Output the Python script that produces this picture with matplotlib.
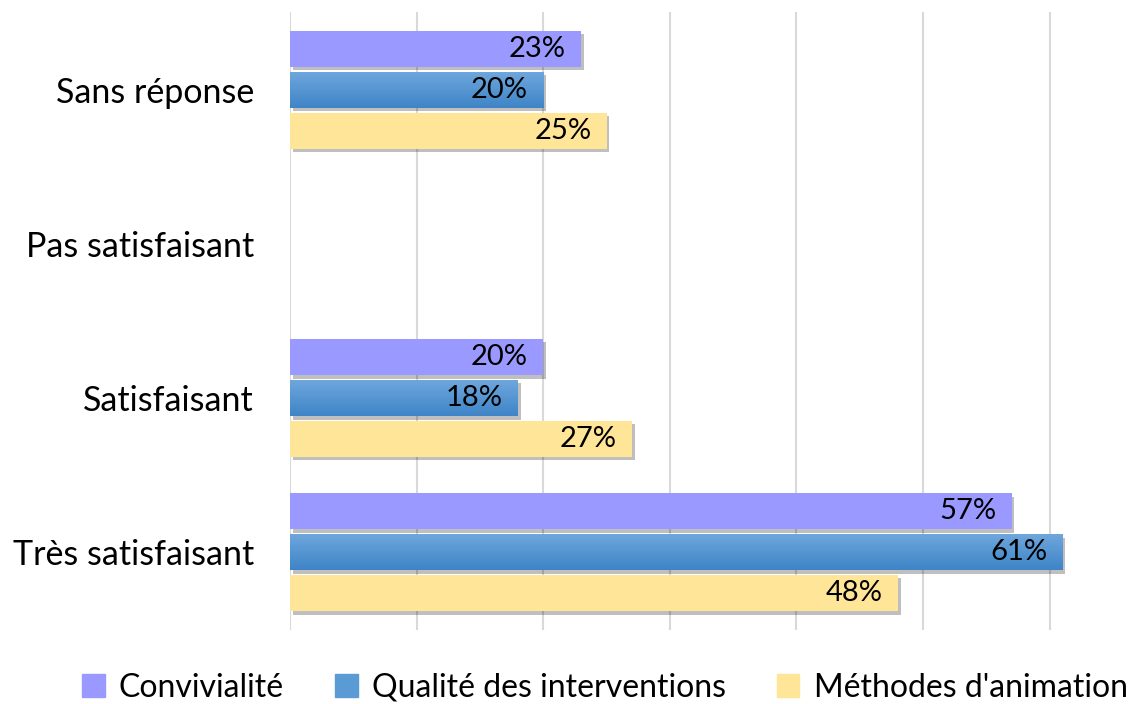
import numpy as np
import matplotlib
matplotlib.use('Agg')
import matplotlib.pyplot as plt
import matplotlib.patheffects as pe
from matplotlib.patches import Patch

plt.rcParams['font.family'] = ['Lato', 'DejaVu Sans']

# Data (bottom to top on the chart)
categories = ['Très satisfaisant', 'Satisfaisant', 'Pas satisfaisant', 'Sans réponse']
series_names = ['Convivialité', 'Qualité des interventions', "Méthodes d'animation"]
convivialite = [57, 20, 0, 23]
qualite = [61, 18, 0, 20]
methodes = [48, 27, 0, 25]

colors = ['#9999FF', '#5B9BD5', '#FFE597']
step = 0.266
bar_h = 0.234

fig = plt.figure(figsize=(11.35, 7.04), dpi=100)
ax = fig.add_axes([290 / 1135, 1 - 630 / 704, 785 / 1135, 618 / 704])

y = np.arange(len(categories))
shadow = [pe.SimplePatchShadow(offset=(2, -2.5), alpha=0.25, shadow_rgbFace='black'), pe.Normal()]

grad = np.linspace(0, 1, 64).reshape(-1, 1)
blue_cmap = matplotlib.colors.LinearSegmentedColormap.from_list('bl', ['#6FA8DD', '#3E84C7'])

for k, (vals, off) in enumerate([(convivialite, step), (qualite, 0), (methodes, -step)]):
    bars = ax.barh(y + off, vals, height=bar_h, color=colors[k], zorder=3)
    for b, v in zip(bars, vals):
        if v == 0:
            b.set_visible(False)
            continue
        b.set_path_effects(shadow)
        if k == 1:
            # vertical gradient on the blue bars, lighter on top
            x0, y0 = b.get_x(), b.get_y()
            im = ax.imshow(grad, cmap=blue_cmap, aspect='auto', zorder=4, origin='upper',
                           extent=[x0, x0 + b.get_width(), y0, y0 + b.get_height()])
            im.set_clip_path(b)
        ax.annotate(f'{v}%', (v, b.get_y() + b.get_height() / 2),
                    xytext=(-11, 0), textcoords='offset points',
                    ha='right', va='center', fontsize=21, color='black', zorder=5)

ax.set_xlim(0, 62)
ax.set_ylim(-0.506, 3.506)
ax.set_xticks(np.arange(0, 61, 10))
ax.set_xticklabels([])
ax.xaxis.grid(True, color='#D9D9D9', linewidth=1.5, zorder=0)
ax.tick_params(axis='x', length=0)
ax.set_yticks(y)
ax.set_yticklabels(categories, fontsize=24.5)
ax.tick_params(axis='y', length=0, pad=26)
for s in ax.spines.values():
    s.set_visible(False)

handles = [Patch(color=c) for c in colors]
fig.legend(handles, series_names, loc='center', bbox_to_anchor=(0.533, 0.023),
           ncol=3, frameon=False, fontsize=23, handlelength=0.7, handleheight=0.7,
           handletextpad=0.45, columnspacing=1.6)

fig.savefig('out.png', dpi=100)
